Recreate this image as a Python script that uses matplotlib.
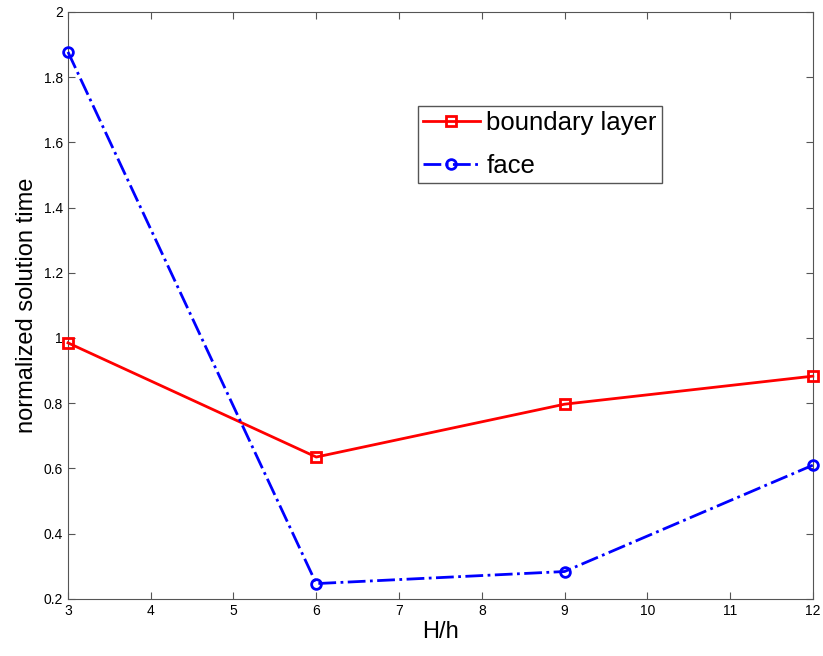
import matplotlib
matplotlib.use('Agg')
import matplotlib.pyplot as plt

plt.rcParams['font.family'] = ['Liberation Sans', 'DejaVu Sans']

ratio = [3, 6, 9, 12]
boundary_layer = [0.985, 0.635, 0.797, 0.883]
face = [1.877, 0.247, 0.284, 0.610]
xticks = list(range(3, 13))
yticks = [0.2, 0.4, 0.6, 0.8, 1, 1.2, 1.4, 1.6, 1.8, 2]
ytick_labels = ['0.2', '0.4', '0.6', '0.8', '1', '1.2', '1.4', '1.6', '1.8', '2']

fig = plt.figure(figsize=(8.23, 6.56), dpi=100)
ax = fig.add_axes([0.0826, 0.087, 0.905, 0.895])

ax.plot(ratio, boundary_layer, '-s', color='red', lw=2, ms=7, mfc='none',
        mew=2, label='boundary layer', clip_on=False, zorder=3)
ax.plot(ratio, face, '-.o', color='blue', lw=2, ms=7, mfc='none',
        mew=2, label='face', clip_on=False, zorder=3)

ax.set_xlim(3, 12)
ax.set_ylim(0.2, 2)
ax.set_xticks(xticks)
ax.set_yticks(yticks)
ax.set_yticklabels(ytick_labels)
ax.tick_params(direction='in', top=True, right=True, labelsize=10, length=5,
               color='#555555')
for s in ax.spines.values():
    s.set_color('#555555')

ax.set_xlabel('H/h', fontsize=17, labelpad=2)
ax.set_ylabel('normalized solution time', fontsize=17, labelpad=4)

leg = ax.legend(loc='upper left', bbox_to_anchor=(0.47, 0.84), borderaxespad=0,
                fontsize=18.5, fancybox=False, framealpha=1, edgecolor='#555555',
                handlelength=2.2, handletextpad=0.25, borderpad=0.2,
                labelspacing=0.75)
leg.get_frame().set_linewidth(1)

fig.savefig('out.png', dpi=100)
